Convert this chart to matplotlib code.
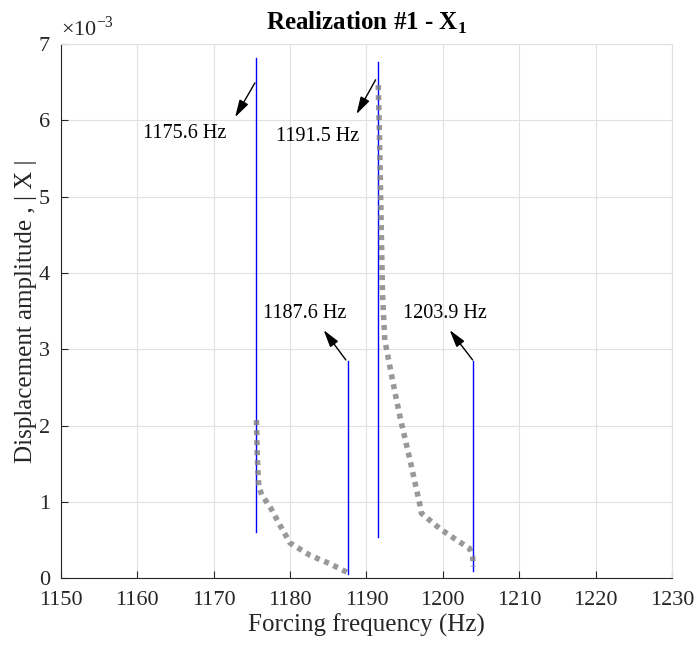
import numpy as np
from matplotlib import pyplot as plt

plt.rcParams['font.family'] = ['Liberation Serif', 'DejaVu Serif']
plt.rcParams['mathtext.fontset'] = 'custom'
plt.rcParams['mathtext.rm'] = 'Liberation Serif'
plt.rcParams['mathtext.bf'] = 'Liberation Serif:bold'

# jump frequencies (Hz) and the vertical extent of each jump (x1e-3)
jump_freq = [1175.6, 1187.6, 1191.5, 1203.9]
jump_low = [0.60, 0.05, 0.54, 0.10]
jump_high = [6.82, 2.85, 6.76, 2.85]

# stable branches of the response (dotted)
branch1_f = [1175.6, 1175.7, 1175.9, 1176.3, 1177.4, 1178.7, 1180.0, 1182.6, 1185.2, 1187.6]
branch1_x = [2.07, 1.60, 1.20, 1.09, 0.93, 0.69, 0.46, 0.30, 0.19, 0.07]
branch2_f = [1191.55, 1191.7, 1191.85, 1192.1, 1192.4, 1193.5, 1194.4, 1195.7, 1197.0,
             1197.2, 1199.6, 1201.8, 1203.5, 1203.9, 1204.0]
branch2_x = [6.46, 5.80, 5.05, 3.73, 3.12, 2.55, 2.11, 1.55, 0.96, 0.85, 0.65, 0.50,
             0.39, 0.28, 0.15]

# annotations: label, text position, arrow tail, arrow head
labels = ['1175.6 Hz', '1191.5 Hz', '1187.6 Hz', '1203.9 Hz']
label_pos = [(1166.2, 5.83), (1183.6, 5.79), (1181.9, 3.47), (1200.3, 3.47)]
arrow_tail = [(1175.4, 6.49), (1191.2, 6.53), (1187.3, 2.86), (1203.9, 2.86)]
arrow_head = [(1172.8, 6.04), (1188.7, 6.08), (1184.4, 3.25), (1200.9, 3.25)]

fig = plt.figure(figsize=(6.97, 6.46), dpi=100)
ax = fig.add_axes([0.0875, 0.105, 0.8765, 0.827])

for f, lo, hi in zip(jump_freq, jump_low, jump_high):
    ax.plot([f, f], [lo, hi], color='b', lw=1.0, zorder=2)

for fs, xs in [(branch1_f, branch1_x), (branch2_f, branch2_x)]:
    ax.plot(fs, xs, color='#808080', alpha=0.8, lw=4, linestyle=(0, (0.9, 0.9)),
            zorder=3)

for lab, pos, tail, head in zip(labels, label_pos, arrow_tail, arrow_head):
    ax.annotate('', xy=head, xytext=tail,
                arrowprops=dict(arrowstyle='-|>,head_length=0.7,head_width=0.2',
                                color='k', lw=1.0, mutation_scale=15,
                                shrinkA=0, shrinkB=0))
    ax.text(pos[0], pos[1], lab, ha='center', va='center', fontsize=14.5)

ax.set_xlim(1150, 1230)
ax.set_ylim(0, 7)
ax.set_xticks(np.arange(1150, 1231, 10))
ax.set_yticks(np.arange(0, 8, 1))
ax.tick_params(direction='in', labelsize=16, length=5, width=0.8, colors='#262626')
ax.tick_params(axis='x', pad=9)
ax.tick_params(axis='y', pad=8)
ax.grid(True, color='#e1e1e1', lw=0.8)
ax.set_axisbelow(True)
for s in ['top', 'right']:
    ax.spines[s].set_color('#e1e1e1')
for s in ['left', 'bottom']:
    ax.spines[s].set_color('#262626')

ax.set_xlabel('Forcing frequency (Hz)', fontsize=18, color='#262626', labelpad=3)
ax.set_ylabel('Displacement amplitude , | X |', fontsize=18, color='#262626', labelpad=1)
ax.set_title(r'Realization #1 - X$_\mathbf{1}$', fontsize=18, fontweight='bold', pad=10)
ax.text(0.0, 1.005, r'$\times$10$^{-3}$', transform=ax.transAxes, fontsize=16,
        color='#262626', va='bottom', ha='left')

fig.savefig('out.png', dpi=100)
